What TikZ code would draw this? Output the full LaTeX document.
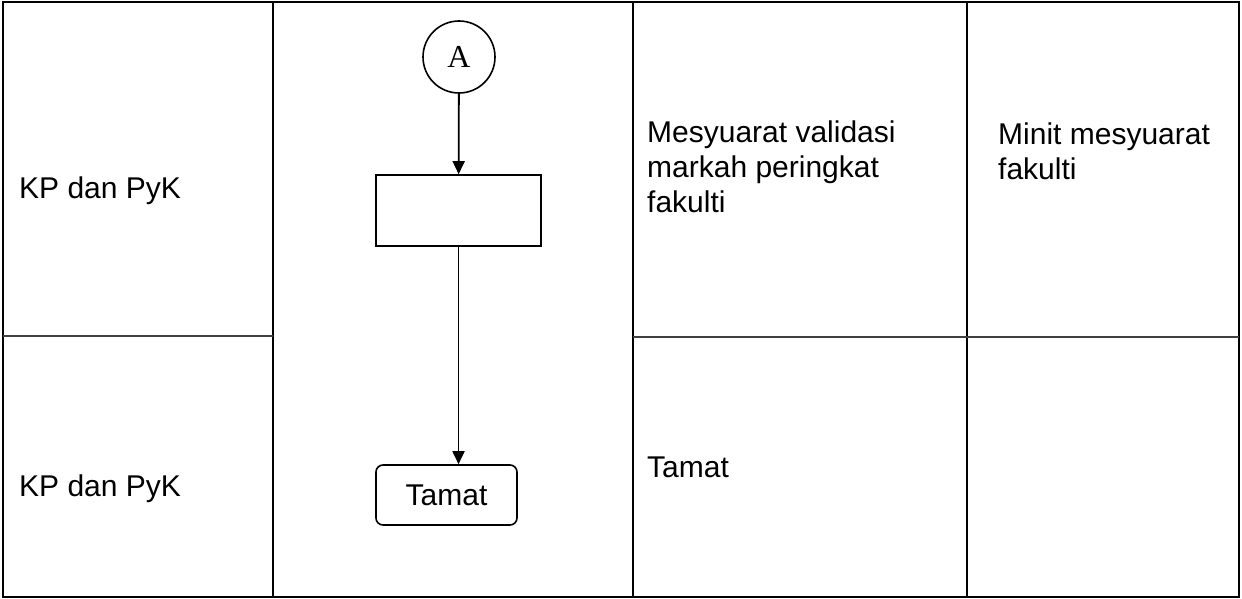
\documentclass[tikz,border=0pt]{standalone}
\usepackage{fontspec}
\setmainfont{Liberation Sans}
\newfontfamily\serifA{Liberation Serif}
\usetikzlibrary{arrows.meta}
\begin{document}
\begin{tikzpicture}[x=1pt,y=-1pt,
  grid/.style={line width=2.2pt, black},
  rowline/.style={line width=1.8pt, black!75},
  txt/.style={font=\fontsize{30}{35}\selectfont, inner sep=0pt, align=left, anchor=base west},
  shapeline/.style={draw, line width=1.6pt},
  arr/.style={-{Triangle[length=13pt,width=12pt]}, line width=1.8pt}]
\useasboundingbox (0,0) rectangle (1242,599);
% table
\draw[grid] (3,2) rectangle (1239,597);
\draw[grid] (273,2) -- (273,597);
\draw[grid] (633,2) -- (633,597);
\draw[grid] (967,2) -- (967,597);
\draw[rowline] (3,336) -- (273,336);
\draw[rowline] (633,337) -- (1239,337);
% texts (base anchor = baseline of last line)
\node[txt] (kp1) at (19,198) {KP dan PyK};
\node[txt] (kp2) at (19,496) {KP dan PyK};
\node[txt] (mes) at (647,212) {Mesyuarat validasi\\markah peringkat\\fakulti};
\node[txt] (min) at (998,179) {Minit mesyuarat\\fakulti};
\node[txt] (tam) at (647,477) {Tamat};
% flow
\node[shapeline, circle, minimum size=72pt, inner sep=0pt, font=\serifA\fontsize{32}{32}\selectfont] (A) at (459,57) {A};
\node[shapeline, rectangle, minimum width=165pt, minimum height=71pt, inner sep=0pt] (proc) at (458.5,210.5) {};
\node[shapeline, rectangle, rounded corners=7pt, minimum width=141pt, minimum height=60pt, inner sep=0pt, font=\fontsize{30}{35}\selectfont] (end) at (446.5,495) {Tamat};
\draw[arr] (A) -- (proc);
\draw[arr] (proc.south) -- (proc.south |- end.north);
\end{tikzpicture}
\end{document}
